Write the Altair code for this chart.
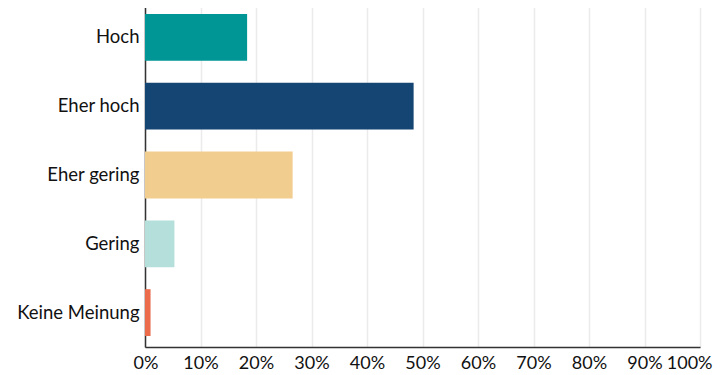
import altair as alt
import pandas as pd

categories = ["Hoch", "Eher hoch", "Eher gering", "Gering", "Keine Meinung"]
values = [18.4, 48.4, 26.6, 5.3, 1.0]
colors = ["#009695", "#144573", "#F2CD90", "#B4DFDA", "#EB6B4B"]
ticks = [0, 10, 20, 30, 40, 50, 60, 70, 80, 90, 100]

df = pd.DataFrame({"cat": categories, "val": values})

chart = alt.Chart(df).mark_bar(stroke=None).encode(
    y=alt.Y("cat:N", sort=categories,
            scale=alt.Scale(paddingInner=0.32, paddingOuter=0.16),
            axis=alt.Axis(title=None, ticks=False, labelFontSize=18.5, labelFont="Lato",
                          labelColor="#111111", labelPadding=6, domainColor="#333333",
                          domainWidth=1.5, grid=False)),
    x=alt.X("val:Q", scale=alt.Scale(domain=[0, 100], nice=False),
            axis=alt.Axis(title=None, values=ticks, labelExpr="datum.value + '%'",
                          ticks=False, labelFontSize=18, labelFont="Lato",
                          labelColor="#111111", labelPadding=7, labelOverlap=False,
                          labelFlush=True, labelFlushOffset=12,
                          domainColor="#333333", domainWidth=1.5,
                          grid=True, gridColor="#EBEBEB", gridWidth=1.5)),
    color=alt.Color("cat:N", scale=alt.Scale(domain=categories, range=colors), legend=None),
).properties(
    width=555, height=344,
    autosize=alt.AutoSizeParams(type="none"),
    padding={"left": 137, "top": -5, "right": 14, "bottom": 30},
).configure_view(stroke=None).configure(background="white")

chart.save("out.html", embed_options={"renderer": "svg", "actions": False})
